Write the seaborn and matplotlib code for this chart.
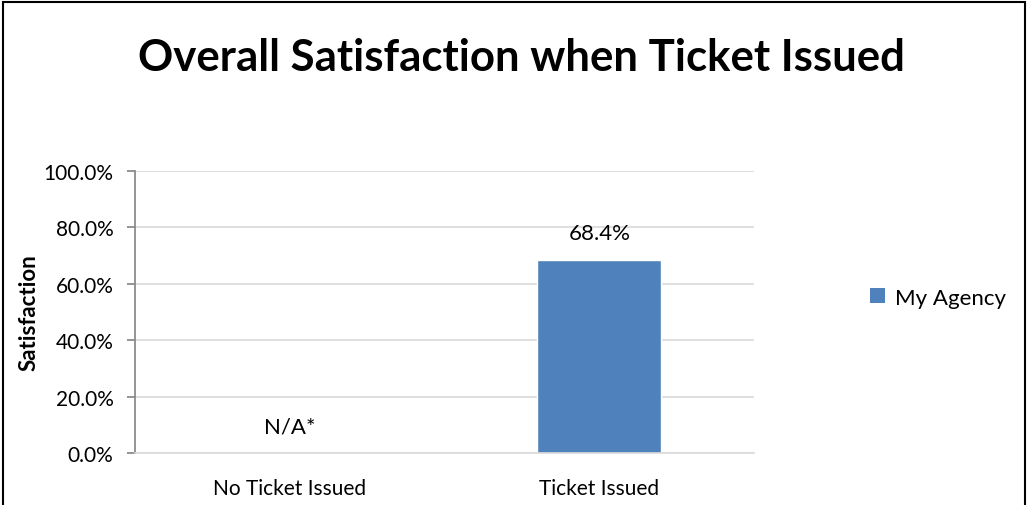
import numpy as np
import pandas as pd
import matplotlib
matplotlib.use("Agg")
import matplotlib.pyplot as plt
import seaborn as sns
from matplotlib.patches import Rectangle, Patch

sns.set_theme(style="white")
plt.rcParams['font.family'] = ['Lato', 'DejaVu Sans']
plt.rcParams['text.color'] = 'black'
plt.rcParams['axes.labelcolor'] = 'black'
plt.rcParams['xtick.color'] = 'black'
plt.rcParams['ytick.color'] = 'black'

categories = ["No Ticket Issued", "Ticket Issued"]
values = [np.nan, 68.4]
labels = ["N/A*", "68.4%"]
yticks = [0, 20, 40, 60, 80, 100]
series_name = "My Agency"
bar_color = "#4F81BD"

df = pd.DataFrame({"Category": categories, "Satisfaction": values})

fig = plt.figure(figsize=(10.28, 5.06), dpi=100)
ax = fig.add_axes([0.1313, 0.1028, 0.6022, 0.5572])

sns.barplot(data=df, x="Category", y="Satisfaction", color=bar_color,
            width=0.4, ax=ax, saturation=1, errorbar=None)

ax.set_ylim(0, 100)
ax.set_xlim(-0.5, 1.5)
ax.set_yticks(yticks)
ax.set_yticklabels([f"{t:.1f}%" for t in yticks], fontsize=15)
ax.grid(axis="y", color="#D9D9D9", linewidth=1.2)
ax.set_axisbelow(True)
for s in ["top", "right"]:
    ax.spines[s].set_visible(False)
ax.spines["left"].set_color("#888888")
ax.spines["bottom"].set_color("#D9D9D9")
ax.spines["bottom"].set_linewidth(1.2)
ax.tick_params(axis="y", which="both", left=True, length=6, color="#888888",
               pad=9.5, labelcolor="black")
ax.tick_params(axis="x", length=0, labelsize=15, pad=18, labelcolor="black")
ax.set_xlabel("")
ax.set_ylabel("Satisfaction", fontsize=16, fontweight="bold", labelpad=2.5,
              color="black")

for i, (v, lab) in enumerate(zip(values, labels)):
    yv = 0 if np.isnan(v) else v
    ax.annotate(lab, (i, yv), xytext=(0, 12), textcoords="offset points",
                ha="center", va="bottom", fontsize=16, color="black")

fig.text(0.507, 0.885, "Overall Satisfaction when Ticket Issued",
         ha="center", va="center", fontsize=31.5, fontweight="bold", color="black")

handle = Patch(facecolor=bar_color, edgecolor="none")
fig.legend([handle], [series_name], loc="center left",
           bbox_to_anchor=(0.827, 0.41), frameon=False, fontsize=16,
           handlelength=0.65, handleheight=0.65, handletextpad=0.45,
           labelcolor="black")

fig.patches.append(Rectangle((0.003, -0.01), 0.994, 1.005, transform=fig.transFigure,
                             fill=False, edgecolor="black", linewidth=1.5))

fig.savefig("out.png", dpi=100)
